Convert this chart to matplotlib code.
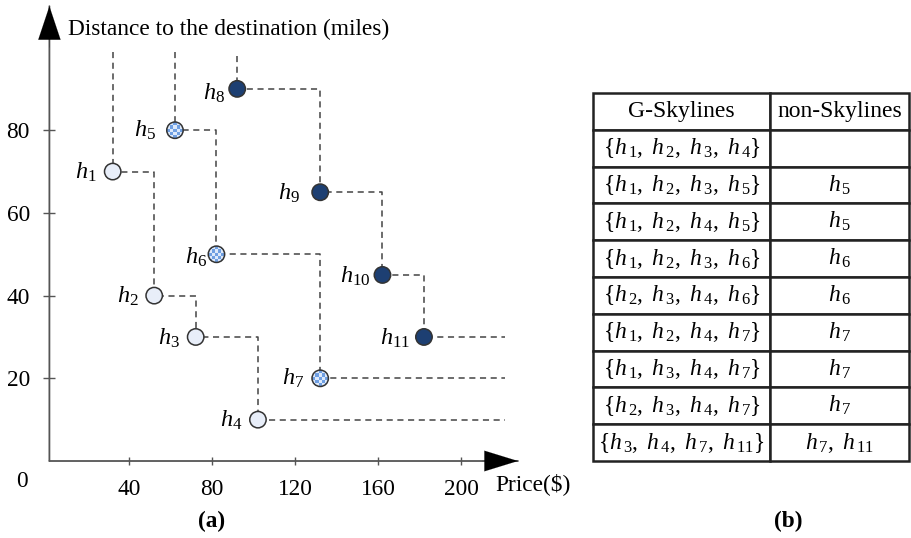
import matplotlib
matplotlib.use('Agg')
import matplotlib.pyplot as plt
import matplotlib.transforms as mtransforms
from matplotlib.patches import Circle, Rectangle

plt.rcParams['font.family'] = ['Liberation Serif', 'DejaVu Serif']
plt.rcParams['mathtext.fontset'] = 'custom'
plt.rcParams['mathtext.rm'] = 'Liberation Serif'
plt.rcParams['mathtext.it'] = 'Liberation Serif:italic'
plt.rcParams['mathtext.bf'] = 'Liberation Serif:bold'

# ---------------- data ----------------
hotel_ids = [1, 2, 3, 4, 5, 6, 7, 8, 9, 10, 11]
price = [32, 52, 72, 102, 62, 82, 132, 92, 132, 162, 182]
distance = [70, 40, 30, 10, 80, 50, 20, 90, 65, 45, 30]
category = ['plain'] * 4 + ['checker'] * 3 + ['dark'] * 4
staircases = [[0, 1, 2, 3], [4, 5, 6], [7, 8, 9, 10]]
x_ticks = [40, 80, 120, 160, 200]
y_ticks = [20, 40, 60, 80]

table_header = ['G-Skylines', 'non-Skylines']
g_skylines = [[1, 2, 3, 4], [1, 2, 3, 5], [1, 2, 4, 5], [1, 2, 3, 6], [2, 3, 4, 6],
              [1, 2, 4, 7], [1, 3, 4, 7], [2, 3, 4, 7], [3, 4, 7, 11]]
non_skylines = [[], [5], [5], [6], [6], [7], [7], [7], [7, 11]]

# ---------------- style / layout ----------------
FS = 16.8
FS_LBL = 17.5
FS_TAB = 17
EDGE = '#333333'
AXC = '#555555'
PLAIN = '#e8eef9'
DARK = '#1d3f72'
CHK_A = '#6f9fe2'
CHK_B = '#dde9fa'
DASH = '#444444'
R_PX = 8.2
top_line = [99, 99, 99, 99, 99, 99, 99, 98, 98, 98, 98]
right_end = 221
label_dx = [-15.7, -15.3, -15.4, -15.7, -19, -9, -16.4, -12.4, -20, -12, -13.7]
label_dy = [-1, -1, -1, -1, 0, -3, 0, -4, -1, -1, -1]

fig = plt.figure(figsize=(9.11, 5.38), dpi=100)
ax = fig.add_axes([0, 0, 580 / 911, 1])
ax.set_xlim(-22.31, 257.2)
ax.set_ylim(-18.62, 111.49)
ax.patch.set_visible(False)

for s in ['top', 'right']:
    ax.spines[s].set_visible(False)
ax.spines['left'].set_position(('data', 1.5))
ax.spines['bottom'].set_position(('data', 0))
ax.spines['left'].set_visible(False)
ax.spines['bottom'].set_visible(False)

ax.set_xticks(x_ticks)
ax.set_yticks(y_ticks)
ax.set_xticklabels([str(v) for v in x_ticks])
ax.set_yticklabels([str(v) for v in y_ticks])
ax.tick_params(axis='y', direction='inout', length=8, width=1.0, color=AXC,
               pad=10, labelsize=FS)
ax.tick_params(axis='x', direction='inout', length=6, width=1.0, color=AXC,
               pad=10, labelsize=FS)

# axis lines + arrows
ax.annotate('', xy=(1.5, 110.0), xytext=(1.5, 0), xycoords='data',
            arrowprops=dict(arrowstyle='-', lw=1.3, color=AXC,
                            shrinkA=0, shrinkB=0), zorder=1)
ax.annotate('', xy=(227.3, 0), xytext=(1.5, 0), xycoords='data',
            arrowprops=dict(arrowstyle='-', lw=1.3, color=AXC,
                            shrinkA=0, shrinkB=0), zorder=1)
ax.annotate('', xy=(1.5, 110.0), xytext=(1.5, 100), xycoords='data',
            arrowprops=dict(arrowstyle='-|>,head_length=1.2,head_width=0.4',
                            mutation_scale=20, lw=0.1, color='black',
                            shrinkA=0, shrinkB=0), zorder=1.1)
ax.annotate('', xy=(227.3, 0), xytext=(210, 0), xycoords='data',
            arrowprops=dict(arrowstyle='-|>,head_length=1.2,head_width=0.37',
                            mutation_scale=20, lw=0.1, color='black',
                            shrinkA=0, shrinkB=0), zorder=1.1)

ax.text(-11.7, -5.0, '0', fontsize=FS, ha='center', va='center')
ax.text(10.5, 104.3, 'Distance to the destination (miles)', fontsize=FS,
        ha='left', va='center')
ax.text(216.5, -5.6, 'Price($)', fontsize=FS, ha='left', va='center')

# dashed staircases
for grp in staircases:
    first = grp[0]
    xs = [price[first], price[first]]
    ys = [top_line[first], distance[first]]
    for a, b in zip(grp[:-1], grp[1:]):
        xs += [price[b], price[b]]
        ys += [distance[a], distance[b]]
    xs.append(right_end)
    ys.append(distance[grp[-1]])
    ax.plot(xs, ys, ls=(0, (4, 3)), color=DASH, lw=1.1, zorder=2)

# markers
for i in range(len(hotel_ids)):
    tr = mtransforms.Affine2D().scale(R_PX) + \
        mtransforms.ScaledTranslation(price[i], distance[i], ax.transData)
    if category[i] == 'checker':
        base = Circle((0, 0), 1, transform=tr, facecolor=CHK_B, edgecolor='none',
                      zorder=3)
        ax.add_artist(base)
        n = 5
        cell = 2.0 / n
        for r in range(n):
            for c in range(n):
                if (r + c) % 2 == 0:
                    sq = Rectangle((-1 + c * cell, -1 + r * cell), cell, cell,
                                   transform=tr, facecolor=CHK_A, edgecolor='none',
                                   zorder=3.1)
                    ax.add_artist(sq)
                    sq.set_clip_path(base)
        ring = Circle((0, 0), 1, transform=tr, facecolor='none', edgecolor=EDGE,
                      lw=1.1, zorder=3.2)
        ax.add_artist(ring)
    else:
        fc = PLAIN if category[i] == 'plain' else DARK
        c = Circle((0, 0), 1, transform=tr, facecolor=fc, edgecolor=EDGE,
                   lw=1.1, zorder=3)
        ax.add_artist(c)
    ax.annotate(r'$h_{%d}$' % hotel_ids[i], xy=(price[i], distance[i]),
                xytext=(label_dx[i], label_dy[i]), textcoords='offset pixels',
                ha='right', va='center', fontsize=FS_LBL, zorder=4)

fig.text(212 / 911, 1 - 521 / 538, '(a)', fontsize=FS, fontweight='bold',
         ha='center', va='center')
fig.text(788 / 911, 1 - 521 / 538, '(b)', fontsize=FS, fontweight='bold',
         ha='center', va='center')

# table
def hset(ids):
    return r'$\{' + r',\ '.join(r'h_{\,%d}' % k for k in ids) + r'\}$'


def hlist(ids):
    if not ids:
        return ''
    return '$' + r',\ '.join(r'h_{\,%d}' % k for k in ids) + '$'


cell_text = [[hset(g), hlist(n)] for g, n in zip(g_skylines, non_skylines)]
tax = fig.add_axes([593 / 911, 77 / 538, 316 / 911, 368 / 538])
tax.axis('off')
tbl = tax.table(cellText=cell_text, colLabels=table_header, cellLoc='center',
                colWidths=[177 / 316, 139 / 316], bbox=[0, 0, 1, 1])
tbl.auto_set_font_size(False)
tbl.set_fontsize(FS_TAB)
for key, cell in tbl.get_celld().items():
    cell.set_linewidth(1.8)
    cell.set_edgecolor('#222222')

fig.savefig('out.png', dpi=100)
